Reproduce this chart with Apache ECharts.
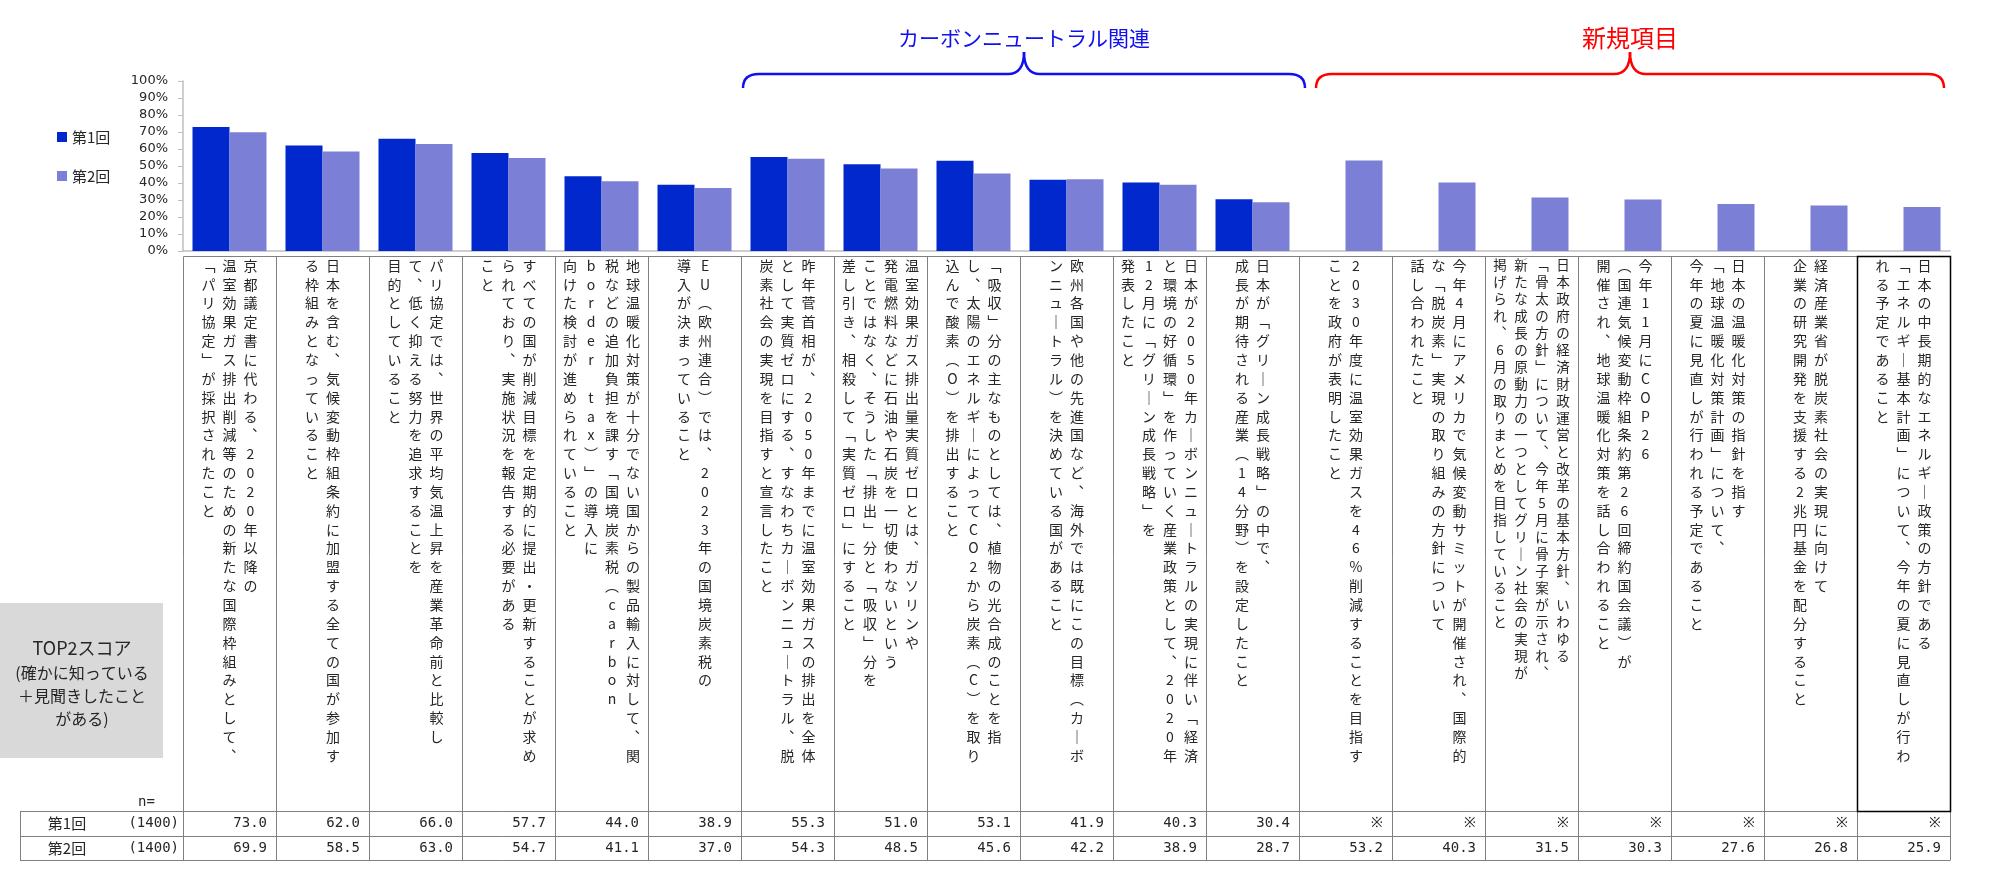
<!DOCTYPE html>
<html>
<head>
<meta charset="utf-8">
<style>
html, body { margin: 0; padding: 0; background: #fff; }
#main { width: 1990px; height: 885px; }
</style>
</head>
<body>
<div id="main"></div>
<script src="https://cdn.jsdelivr.net/npm/echarts@6/dist/echarts.min.js"></script>
<script>
// データ
var seriesNames = ['第1回', '第2回'];
var sampleSizes = ['(1400)', '(1400)'];
var round1 = [73.0, 62.0, 66.0, 57.7, 44.0, 38.9, 55.3, 51.0, 53.1, 41.9, 40.3, 30.4, null, null, null, null, null, null, null];
var round2 = [69.9, 58.5, 63.0, 54.7, 41.1, 37.0, 54.3, 48.5, 45.6, 42.2, 38.9, 28.7, 53.2, 40.3, 31.5, 30.3, 27.6, 26.8, 25.9];
var yTickLabels = ['0%', '10%', '20%', '30%', '40%', '50%', '60%', '70%', '80%', '90%', '100%'];

// 項目（縦書き、1要素 = 1行）
var categories = [
    ['京都議定書に代わる、2020年以降の', '温室効果ガス排出削減等のための新たな国際枠組みとして、', '「パリ協定」が採択されたこと'],
    ['日本を含む、気候変動枠組条約に加盟する全ての国が参加す', 'る枠組みとなっていること'],
    ['パリ協定では、世界の平均気温上昇を産業革命前と比較し', 'て、低く抑える努力を追求することを', '目的としていること'],
    ['すべての国が削減目標を定期的に提出・更新することが求め', 'られており、実施状況を報告する必要がある', 'こと'],
    ['地球温暖化対策が十分でない国からの製品輸入に対して、関', '税などの追加負担を課す「国境炭素税（carbon', 'border tax）」の導入に', '向けた検討が進められていること'],
    ['EU（欧州連合）では、2023年の国境炭素税の', '導入が決まっていること'],
    ['昨年菅首相が、2050年までに温室効果ガスの排出を全体', 'として実質ゼロにする、すなわちカーボンニュートラル、脱', '炭素社会の実現を目指すと宣言したこと'],
    ['温室効果ガス排出量実質ゼロとは、ガソリンや', '発電燃料などに石油や石炭を一切使わないという', 'ことではなく、そうした「排出」分と「吸収」分を', '差し引き、相殺して「実質ゼロ」にすること'],
    ['「吸収」分の主なものとしては、植物の光合成のことを指', 'し、太陽のエネルギーによってCO2から炭素（C）を取り', '込んで酸素（O）を排出すること'],
    ['欧州各国や他の先進国など、海外では既にこの目標（カーボ', 'ンニュートラル）を決めている国があること'],
    ['日本が2050年カーボンニュートラルの実現に伴い「経済', 'と環境の好循環」を作っていく産業政策として、2020年', '12月に「グリーン成長戦略」を', '発表したこと'],
    ['日本が「グリーン成長戦略」の中で、', '成長が期待される産業（14分野）を設定したこと'],
    ['2030年度に温室効果ガスを46%削減することを目指す', 'ことを政府が表明したこと'],
    ['今年4月にアメリカで気候変動サミットが開催され、国際的', 'な「脱炭素」実現の取り組みの方針について', '話し合われたこと'],
    ['日本政府の経済財政運営と改革の基本方針、いわゆる', '「骨太の方針」について、今年5月に骨子案が示され、', '新たな成長の原動力の一つとしてグリーン社会の実現が', '掲げられ、6月の取りまとめを目指していること'],
    ['今年11月にCOP26', '（国連気候変動枠組条約第26回締約国会議）が', '開催され、地球温暖化対策を話し合われること'],
    ['日本の温暖化対策の指針を指す', '「地球温暖化対策計画」について、', '今年の夏に見直しが行われる予定であること'],
    ['経済産業省が脱炭素社会の実現に向けて', '企業の研究開発を支援する2兆円基金を配分すること'],
    ['日本の中長期的なエネルギー政策の方針である', '「エネルギー基本計画」について、今年の夏に見直しが行わ', 'れる予定であること']
];
var groups = [
    { name: 'カーボンニュートラル関連', from: 6, to: 11, color: '#1010F0', size: 21 },
    { name: '新規項目', from: 12, to: 18, color: '#FF0000', size: 24 }
];

var JP = '"Noto Sans CJK JP"';
var MONO = '"DejaVu Sans Mono"';
var TXT = '#262626';

var option = {
    animation: false,
    grid: { left: 183, right: 40, top: 81, bottom: 634, outerBoundsMode: 'none' },
    legend: {
        data: seriesNames,
        orient: 'vertical',
        left: 57,
        top: 127,
        padding: 0,
        itemWidth: 10,
        itemHeight: 10,
        itemGap: 19,
        icon: 'rect',
        textStyle: { fontFamily: 'Noto Sans CJK JP', fontSize: 15, color: TXT, lineHeight: 20 }
    },
    xAxis: {
        type: 'category',
        data: categories.map(function (c) { return c.join(''); }),
        axisLine: { lineStyle: { color: '#BFBFBF', width: 1.5 } },
        axisTick: { show: false },
        axisLabel: { show: false }
    },
    yAxis: {
        type: 'value',
        min: 0,
        max: 100,
        interval: 10,
        splitLine: { show: false },
        axisLine: { show: true, lineStyle: { color: '#BFBFBF', width: 1.5 } },
        axisTick: { show: true, length: 5, lineStyle: { color: '#BFBFBF' } },
        axisLabel: {
            margin: 15,
            fontFamily: 'DejaVu Sans',
            fontSize: 13,
            color: TXT,
            formatter: function (v) { return yTickLabels[Math.round(v / 10)]; }
        }
    },
    series: [
        { name: seriesNames[0], type: 'bar', data: round1, barWidth: 37, barGap: '0%',
          itemStyle: { color: '#0028CC' } },
        { name: seriesNames[1], type: 'bar', data: round2, barWidth: 37, barGap: '0%',
          itemStyle: { color: '#7B80D6' } }
    ]
};

var chart = echarts.init(document.getElementById('main'));
chart.setOption(option);

// 表・縦書きラベルの配置（軸の座標から求める）
var cx = categories.map(function (c, i) { return chart.convertToPixel({ xAxisIndex: 0 }, i); });
var band = cx[1] - cx[0];
var left0 = cx[0] - band / 2;
var right0 = cx[cx.length - 1] + band / 2;
var yZero = chart.convertToPixel({ yAxisIndex: 0 }, 0);
var tableTop = yZero + 5;
var row1 = 811, row2 = 836, rowEnd = 860, tableLeft = 20;

var g = [];
function px(v) { return Math.round(v) + 0.5; }
function line(x1, y1, x2, y2, color, w) {
    g.push({ type: 'line', silent: true, shape: { x1: x1, y1: y1, x2: x2, y2: y2 },
        style: { stroke: color || '#808080', lineWidth: w || 1 } });
}
function curve(x1, y1, cpx, cpy, x2, y2, color, w) {
    g.push({ type: 'bezierCurve', silent: true,
        shape: { x1: x1, y1: y1, cpx1: cpx, cpy1: cpy, x2: x2, y2: y2 },
        style: { fill: null, stroke: color, lineWidth: w } });
}
function text(str, x, y, font, fill, align, valign, lh) {
    var st = { text: str, font: font, fill: fill || TXT,
        align: align, verticalAlign: valign, textAlign: align, textVerticalAlign: valign };
    if (lh) st.lineHeight = lh;
    g.push({ type: 'text', silent: true, x: x, y: y, style: st });
}

// グループの括弧
function brace(xl, xr, color) {
    var xm = (xl + xr) / 2, yT = 52, yM = 74, yE = 88, r = 16, w = 2.5;
    curve(xl, yE, xl, yM, xl + r, yM, color, w);
    line(xl + r, yM, xm - r, yM, color, w);
    curve(xm - r, yM, xm, yM, xm, yT, color, w);
    curve(xm, yT, xm, yM, xm + r, yM, color, w);
    line(xm + r, yM, xr - r, yM, color, w);
    curve(xr - r, yM, xr, yM, xr, yE, color, w);
    return xm;
}
var bxl = [left0 + groups[0].from * band + 2, left0 + groups[1].from * band + 17];
var bxr = [left0 + (groups[0].to + 1) * band + 6, right0 - 6];
groups.forEach(function (gr, k) {
    var xm = brace(bxl[k], bxr[k], gr.color);
    text(gr.name, xm, 38, gr.size + 'px ' + JP, gr.color, 'center', 'middle');
});

// 左のボックス
g.push({ type: 'rect', silent: true, shape: { x: 0, y: 603, width: 163, height: 155 }, style: { fill: '#D9D9D9' } });
text('TOP2スコア', 82, 648, '18px ' + JP, TXT, 'center', 'middle');
text('(確かに知っている', 82, 673, '16px ' + JP, TXT, 'center', 'middle');
text('＋見聞きしたこと', 82, 696, '16px ' + JP, TXT, 'center', 'middle');
text('がある)', 82, 719, '16px ' + JP, TXT, 'center', 'middle');
text('n=', 138, 802, '14px ' + MONO, TXT, 'left', 'middle');

// 表の罫線
line(px(left0), px(tableTop), px(right0), px(tableTop));
[row1, row2, rowEnd].forEach(function (y) { line(tableLeft, px(y), px(right0), px(y)); });
line(px(tableLeft), row1, px(tableLeft), rowEnd);
for (var i = 0; i <= categories.length; i++) {
    var xx = px(left0 + i * band);
    line(xx, px(tableTop), xx, rowEnd);
}
var last = categories.length - 1;
g.push({ type: 'rect', silent: true,
    shape: { x: px(left0 + last * band), y: px(tableTop), width: Math.round(band), height: row1 - Math.round(tableTop) },
    style: { fill: null, stroke: '#000', lineWidth: 1.5 } });

// 縦書きラベル
var vmap = { '「': '﹁', '」': '﹂', '（': '︵', '）': '︶', '、': '︑', 'ー': '｜' };
function vert(s) { return Array.from(s).map(function (c) { return vmap[c] || c; }).join('\n'); }
categories.forEach(function (cols, i) {
    var n = cols.length, pitch = 21;
    var small = i === 14;
    cols.forEach(function (col, j) {
        var x = cx[i] + (n - 1) / 2 * pitch - j * pitch;
        text(vert(col), x, tableTop, (small ? '13.5px ' : '14px ') + JP, TXT, 'center', 'top', small ? 17 : 18.85);
    });
});

// 表の値
var rows = [round1, round2];
var rowMid = [(row1 + row2) / 2, (row2 + rowEnd) / 2];
rows.forEach(function (vals, r) {
    text(seriesNames[r], 67, rowMid[r], '15px ' + JP, TXT, 'center', 'middle');
    text(sampleSizes[r], 179, rowMid[r], '14px ' + MONO, TXT, 'right', 'middle');
    vals.forEach(function (v, i) {
        text(v == null ? '※' : v.toFixed(1), cx[i] + band / 2 - 9, rowMid[r], '14px ' + MONO, TXT, 'right', 'middle');
    });
});

chart.setOption({ graphic: { elements: g } });
</script>
</body>
</html>
